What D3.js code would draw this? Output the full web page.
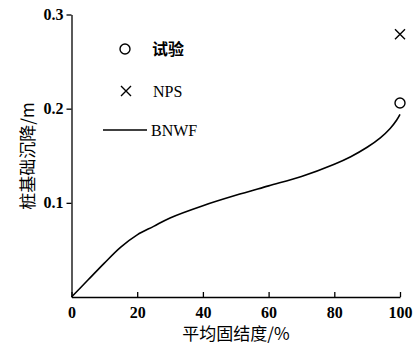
<!DOCTYPE html>
<html>
<head>
<meta charset="utf-8">
<script src="https://cdn.jsdelivr.net/npm/d3@7"></script>
<style>
  body { margin: 0; background: #fff; }
  svg { display: block; }
  .tick text { font-family: "Liberation Serif", "DejaVu Serif", serif; font-weight: bold; font-size: 16px; fill: #000; }
  .lab { font-family: "Noto Sans CJK SC", sans-serif; font-size: 17px; fill: #000; }
  .leg { font-family: "Liberation Serif", serif; font-size: 16px; fill: #000; }
</style>
</head>
<body>
<svg id="chart" width="417" height="349"></svg>
<script>
// BNWF curve
var bnwfX = [0, 5, 10, 15, 20, 25, 30, 40, 50, 60, 70, 80, 85, 90, 94, 97, 99, 100];
var bnwfY = [0, 0.018, 0.036, 0.053, 0.066, 0.075, 0.084, 0.097, 0.108, 0.118, 0.128, 0.141, 0.149, 0.159, 0.169, 0.179, 0.188, 0.194];
// single points at 100%
var testPt = [100, 0.206];
var npsPt = [100, 0.279];
var xTicks = [0, 20, 40, 60, 80, 100];
var yTicks = [0.1, 0.2, 0.3];
var legendNames = ["试验", "NPS", "BNWF"];

var svg = d3.select("#chart");
var x = d3.scaleLinear().domain([0, 100]).range([71.5, 400]);
var y = d3.scaleLinear().domain([0, 0.3]).range([297, 14.5]);

// x axis, ticks pointing in
var gx = svg.append("g").attr("transform", "translate(0," + y(0) + ")")
  .call(d3.axisBottom(x).tickValues(xTicks).tickSizeInner(-5).tickSizeOuter(0).tickPadding(8));
gx.selectAll(".tick text").attr("dy", "0.8em");

// y axis, ticks pointing out
var gy = svg.append("g").attr("transform", "translate(" + x(0) + ",0)")
  .call(d3.axisLeft(y).tickValues(yTicks).tickFormat(d3.format(".1f")).tickSizeInner(5).tickSizeOuter(0).tickPadding(3));

svg.selectAll(".domain, .tick line").attr("stroke", "#000").attr("stroke-width", 1.3);
svg.selectAll(".domain").attr("fill", "none");

// axis titles
svg.append("text").attr("class", "lab")
  .attr("x", 236).attr("y", 340).attr("text-anchor", "middle")
  .text("平均固结度/%");
svg.append("text").attr("class", "lab")
  .attr("transform", "translate(34,156) rotate(-90)").attr("text-anchor", "middle")
  .text("桩基础沉降/m");

// BNWF line
var pts = bnwfX.map(function (d, i) { return [d, bnwfY[i]]; });
svg.append("path").datum(pts)
  .attr("fill", "none").attr("stroke", "#000").attr("stroke-width", 1.6)
  .attr("d", d3.line()
    .x(function (d) { return x(d[0]); })
    .y(function (d) { return y(d[1]); })
    .curve(d3.curveCatmullRom.alpha(0.5)));

// markers
function drawCircle(cx, cy) {
  svg.append("circle").attr("cx", cx).attr("cy", cy).attr("r", 5)
    .attr("fill", "#fff").attr("stroke", "#000").attr("stroke-width", 1.4);
}
function drawCross(cx, cy) {
  var s = 5;
  svg.append("path")
    .attr("d", "M" + (cx - s) + "," + (cy - s) + "L" + (cx + s) + "," + (cy + s) +
               "M" + (cx - s) + "," + (cy + s) + "L" + (cx + s) + "," + (cy - s))
    .attr("stroke", "#000").attr("stroke-width", 1.4);
}
drawCircle(x(testPt[0]), y(testPt[1]));
drawCross(x(npsPt[0]), y(npsPt[1]));

// legend
drawCircle(125, 49);
svg.append("text").attr("class", "lab").attr("x", 152).attr("y", 49).attr("dy", "0.35em")
  .style("font-size", "16px").style("font-weight", "bold").text(legendNames[0]);
drawCross(126, 91);
svg.append("text").attr("class", "leg").attr("x", 153).attr("y", 91).attr("dy", "0.35em").text(legendNames[1]);
svg.append("line").attr("x1", 103).attr("x2", 147).attr("y1", 130).attr("y2", 130)
  .attr("stroke", "#000").attr("stroke-width", 1.6);
svg.append("text").attr("class", "leg").attr("x", 151).attr("y", 130).attr("dy", "0.35em").text(legendNames[2]);
</script>
</body>
</html>
